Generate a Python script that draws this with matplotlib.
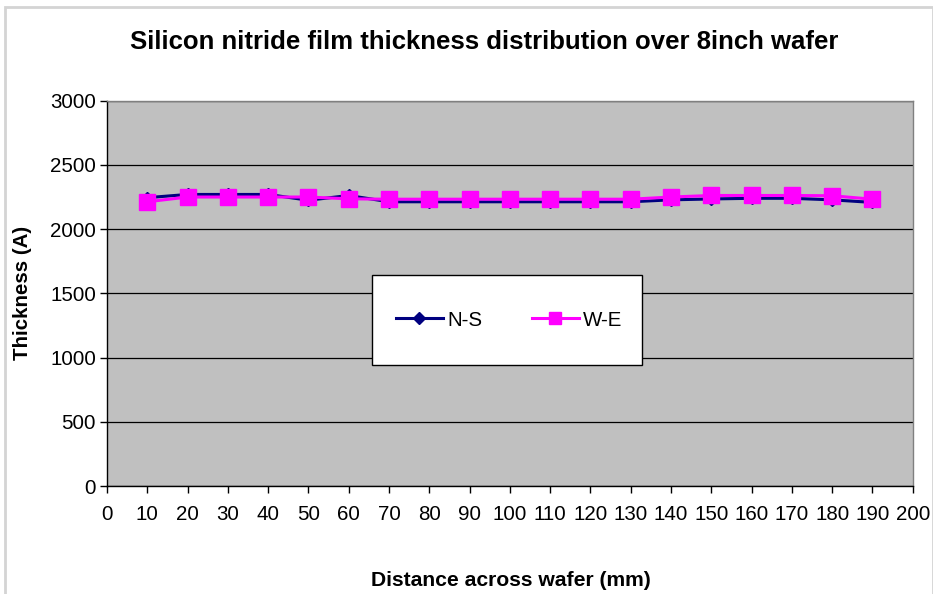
import matplotlib
matplotlib.use("Agg")
import matplotlib.pyplot as plt
from matplotlib.lines import Line2D
from matplotlib.patches import Rectangle

# Film thickness (Angstrom) measured along two diameters of the wafer
distance_mm = [10, 20, 30, 40, 50, 60, 70, 80, 90, 100,
               110, 120, 130, 140, 150, 160, 170, 180, 190]
thickness_ns = [2245, 2270, 2270, 2270, 2225, 2262, 2213, 2213, 2213, 2213,
                2213, 2213, 2213, 2228, 2235, 2240, 2240, 2228, 2208]
thickness_we = [2213, 2250, 2250, 2250, 2250, 2236, 2233, 2233, 2233, 2233,
                2233, 2233, 2233, 2250, 2262, 2262, 2262, 2260, 2233]
series_names = ["N-S", "W-E"]
x_ticks = list(range(0, 201, 10))
y_ticks = list(range(0, 3001, 500))

plt.rcParams['font.family'] = ['Liberation Sans', 'DejaVu Sans']

W, H = 933, 594
fig = plt.figure(figsize=(W / 100, H / 100), dpi=100)
fig.patch.set_facecolor('white')

# light outer chart frame
fig.patches.append(Rectangle((5 / W, -0.05), (W - 5.5) / W, 1.05 - 7 / H,
                             transform=fig.transFigure, fill=False,
                             edgecolor='#d4d4d4', linewidth=2))

left, right, top, bottom = 107, 912.7, 100.7, 486
ax = fig.add_axes([left / W, 1 - bottom / H, (right - left) / W, (bottom - top) / H])
ax.set_facecolor('#C0C0C0')

ax.set_xlim(0, 200)
ax.set_ylim(0, 3000)
ax.set_xticks(x_ticks)
ax.set_yticks(y_ticks)
ax.tick_params(axis='both', direction='out', length=5, width=1, color='black',
               labelsize=14.8, pad=3)
ax.tick_params(axis='x', pad=9)
ax.yaxis.grid(True, color='black', linewidth=0.9)
ax.set_axisbelow(True)

for side in ('left', 'bottom'):
    ax.spines[side].set_color('black')
    ax.spines[side].set_linewidth(1.0)
for side in ('top', 'right'):
    ax.spines[side].set_color('#808080')
    ax.spines[side].set_linewidth(1.0)

ax.plot(distance_mm, thickness_ns, color='#000080', linewidth=2.2,
        marker='D', markersize=6.5, markerfacecolor='#000080',
        markeredgecolor='#000080', zorder=3, clip_on=False)
ax.plot(distance_mm, thickness_we, color='#FF00FF', linewidth=2.2,
        marker='s', markersize=11.5, markerfacecolor='#FF00FF',
        markeredgecolor='#FF00FF', zorder=4, clip_on=False)

# legend box
lx0, lx1, ly0, ly1 = 372, 642, 275, 365
fig.patches.append(Rectangle((lx0 / W, 1 - ly1 / H), (lx1 - lx0) / W, (ly1 - ly0) / H,
                             transform=fig.transFigure, facecolor='white',
                             edgecolor='black', linewidth=1.0, zorder=5))
handles = [
    Line2D([], [], color='#000080', linewidth=2.2, marker='D', markersize=6.5),
    Line2D([], [], color='#FF00FF', linewidth=2.2, marker='s', markersize=9),
]
leg = fig.legend(handles, series_names, loc='center',
                 bbox_to_anchor=((lx0 + lx1 + 4) / 2 / W, 1 - (ly0 + ly1) / 2 / H),
                 ncol=2, frameon=False, fontsize=14.8, handlelength=2.3,
                 handletextpad=0.2, columnspacing=2.4)
leg.set_zorder(6)

fig.text(484 / W, 1 - 42 / H, 'Silicon nitride film thickness distribution over 8inch wafer',
         ha='center', va='center', fontsize=18.5, fontweight='bold')
fig.text(23 / W, 1 - 293 / H, 'Thickness (A)', ha='center', va='center',
         rotation=90, fontsize=14.8, fontweight='bold')
fig.text(511 / W, 1 - 580 / H, 'Distance across wafer (mm)', ha='center', va='center',
         fontsize=15.2, fontweight='bold')

fig.savefig('out.png', dpi=100)
